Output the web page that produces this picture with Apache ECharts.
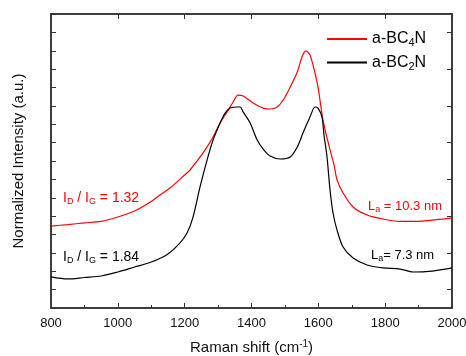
<!DOCTYPE html>
<html>
<head>
<meta charset="utf-8">
<script src="https://cdn.jsdelivr.net/npm/echarts@6/dist/echarts.min.js"></script>
<style>
  html, body { margin: 0; padding: 0; background: #fff; }
  #chart { width: 466px; height: 356px; }
</style>
</head>
<body>
<div id="chart"></div>
<script>
// a-BC4N (red)
const shiftBC4N = [800, 850, 900, 950, 1000, 1050, 1100, 1126, 1156, 1200, 1216, 1255, 1285, 1306, 1327, 1345, 1360, 1375, 1405, 1435, 1456, 1477, 1495, 1516, 1537, 1551, 1563, 1575, 1590, 1599, 1614, 1635, 1647, 1656, 1674, 1704, 1746, 1794, 1845, 1911, 1971, 2000];
const intBC4N = [4.46, 4.54, 4.63, 4.71, 4.95, 5.28, 5.80, 6.15, 6.53, 7.24, 7.51, 8.44, 9.31, 10.07, 10.67, 11.21, 11.59, 11.54, 11.16, 10.88, 10.83, 10.94, 11.32, 12.03, 12.84, 13.66, 13.99, 13.77, 12.79, 12.03, 10.23, 8.60, 7.78, 6.97, 6.26, 5.50, 5.06, 4.84, 4.71, 4.73, 4.84, 4.90];

// a-BC2N (black)
const shiftBC2N = [800, 850, 900, 950, 1000, 1050, 1100, 1150, 1186, 1207, 1225, 1246, 1267, 1285, 1306, 1321, 1336, 1357, 1366, 1375, 1396, 1417, 1435, 1456, 1486, 1516, 1537, 1554, 1575, 1590, 1599, 1611, 1617, 1626, 1635, 1644, 1656, 1674, 1704, 1746, 1794, 1845, 1884, 1940, 2000];
const intBC2N = [1.69, 1.58, 1.66, 1.74, 1.96, 2.23, 2.50, 2.94, 3.54, 4.08, 4.95, 6.59, 8.05, 9.14, 10.07, 10.61, 10.88, 10.94, 10.94, 10.67, 10.07, 9.14, 8.65, 8.27, 8.11, 8.22, 8.76, 9.52, 10.39, 10.94, 10.88, 10.39, 9.41, 8.22, 6.42, 5.17, 4.24, 3.32, 2.72, 2.34, 2.18, 2.12, 1.96, 2.01, 2.18];

const xTicks = [800, 1000, 1200, 1400, 1600, 1800, 2000];
const seriesNames = ['a-BC4N', 'a-BC2N'];

const font = '"Liberation Sans", Arial, sans-serif';
const axisColor = '#333';

const chart = echarts.init(document.getElementById('chart'), null, { renderer: 'canvas' });

const pairs = (xs, ys) => xs.map((x, i) => [x, ys[i]]);

const legendRich = {
  n: { fontSize: 16, fontFamily: font, color: '#000' },
  s: { fontSize: 11, fontFamily: font, color: '#000', padding: [8, 0, 0, 0] }
};

// annotations placed next to the curves
function note(x, y, text, color, size) {
  return {
    type: 'text',
    left: x,
    top: y,
    z: 100,
    style: {
      text: text,
      fill: color,
      rich: {
        m: { fontSize: size, fontFamily: font, fill: color },
        s: { fontSize: 9, fontFamily: font, fill: color, padding: [7, 0, 0, 0] }
      }
    }
  };
}

const frame = () => ({ show: true, onZero: false, lineStyle: { color: axisColor, width: 1.5 } });

const option = {
  animation: false,
  backgroundColor: '#fff',
  textStyle: { fontFamily: font },
  grid: {
    left: 51, right: 14, top: 14, bottom: 48,
    outerBoundsMode: 'none',
    show: true, borderColor: axisColor, borderWidth: 1.5, backgroundColor: 'transparent'
  },
  legend: {
    data: seriesNames,
    orient: 'vertical',
    left: 327,
    top: 31,
    padding: 0,
    itemWidth: 40,
    itemHeight: 2,
    itemGap: 6,
    icon: 'rect',
    formatter: name => '{n|a-BC}{s|' + name.charAt(4) + '}{n|N}',
    textStyle: { rich: legendRich }
  },
  xAxis: [
    {
      type: 'value',
      min: xTicks[0],
      max: xTicks[xTicks.length - 1],
      interval: 200,
      position: 'bottom',
      name: '{a|Raman shift (cm}{b|-1}{a|)}',
      nameLocation: 'middle',
      nameGap: 31,
      nameTextStyle: {
        rich: {
          a: { fontSize: 15, fontFamily: font, color: '#111' },
          b: { fontSize: 10, fontFamily: font, color: '#111', padding: [0, 0, 8, 0] }
        }
      },
      axisLine: frame(),
      axisTick: { inside: true, length: 5, lineStyle: { color: axisColor } },
      minorTick: { show: true, splitNumber: 2, length: 3, lineStyle: { color: axisColor } },
      axisLabel: { fontSize: 13, color: '#111', margin: 9, formatter: v => String(v) },
      splitLine: { show: false }
    },
    {
      type: 'value',
      min: xTicks[0],
      max: xTicks[xTicks.length - 1],
      interval: 200,
      position: 'top',
      axisLine: frame(),
      axisTick: { inside: true, length: 5, lineStyle: { color: axisColor } },
      axisLabel: { show: false },
      splitLine: { show: false }
    }
  ],
  yAxis: [
    {
      type: 'value',
      min: 0,
      max: 16,
      interval: 1,
      position: 'left',
      name: 'Normalized Intensity (a.u.)',
      nameLocation: 'middle',
      nameGap: 25,
      nameTextStyle: { fontSize: 15, color: '#111' },
      axisLine: frame(),
      axisTick: { inside: true, length: 5, lineStyle: { color: axisColor } },
      axisLabel: { show: false },
      splitLine: { show: false }
    },
    {
      type: 'value',
      min: 0,
      max: 16,
      interval: 2,
      position: 'right',
      axisLine: frame(),
      axisTick: { show: false, inside: true },
      minorTick: { show: true, splitNumber: 2, length: 5, lineStyle: { color: axisColor } },
      axisLabel: { show: false },
      splitLine: { show: false }
    }
  ],
  graphic: [
    note(63, 191, '{m|I}{s|D}{m| / I}{s|G}{m| = 1.32}', '#ff0000', 14),
    note(63, 250, '{m|I}{s|D}{m| / I}{s|G}{m| = 1.84}', '#000', 14),
    note(368, 200, '{m|L}{s|a}{m| = 10.3 nm}', '#ff0000', 13),
    note(371, 249, '{m|L}{s|a}{m|= 7.3 nm}', '#000', 13)
  ],
  series: [
    {
      name: seriesNames[0],
      type: 'line',
      xAxisIndex: 0,
      yAxisIndex: 0,
      data: pairs(shiftBC4N, intBC4N),
      showSymbol: false,
      symbol: 'none',
      smooth: 0.3,
      lineStyle: { color: '#ff0000', width: 1.2 },
      itemStyle: { color: '#ff0000' }
    },
    {
      // same scales as the first pair, bound to the top/right axes
      name: seriesNames[1],
      type: 'line',
      xAxisIndex: 1,
      yAxisIndex: 1,
      data: pairs(shiftBC2N, intBC2N),
      showSymbol: false,
      symbol: 'none',
      smooth: 0.3,
      lineStyle: { color: '#000', width: 1.2 },
      itemStyle: { color: '#000' }
    }
  ]
};

chart.setOption(option);
</script>
</body>
</html>
